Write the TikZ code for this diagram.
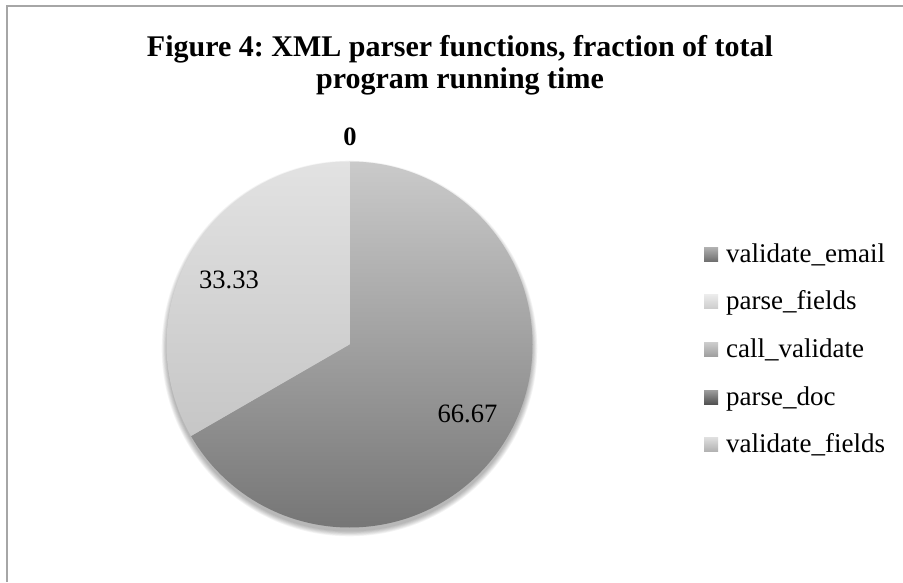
\documentclass[tikz,border=0pt]{standalone}
\usepackage{fontspec}
\setmainfont{Liberation Serif}
\usetikzlibrary{calc}
\frenchspacing
\definecolor{framegray}{HTML}{A6A6A6}
\definecolor{bigtop}{HTML}{CACACA}
\definecolor{bigbot}{HTML}{767676}
\definecolor{littop}{HTML}{E2E2E2}
\definecolor{litbot}{HTML}{C6C6C6}
\tikzset{
  legtext/.style={anchor=base west, font=\fontsize{27}{30}\selectfont, inner sep=0pt},
  pielabel/.style={font=\fontsize{26.5}{30}\selectfont, inner sep=0pt},
  titletext/.style={anchor=base, font=\bfseries\fontsize{30}{34}\selectfont, inner sep=0pt}
}
\begin{document}
\begin{tikzpicture}[x=1pt,y=1pt]
\useasboundingbox (0,0) rectangle (903,582);
\fill[white] (0,0) rectangle (903,582);
% frame
\draw[framegray, line width=2pt] (7,0) -- (7,576) -- (903,576);
% title
\node[titletext] (t1) at (460,525) {Figure 4: XML parser functions, fraction of total};
\node[titletext] (t2) at (460,493) {program running time};
% pie shadow
\coordinate (c) at (349.5,237.5);
\foreach \k in {0,...,6}{
  \fill[black, opacity=0.045] ($(c)+(0,-4)$) circle ({183+\k*0.8});
}
% slices
\shade[top color=bigtop, bottom color=bigbot] (c) -- ++(90:183) arc[start angle=90, end angle=-150, radius=183] -- cycle;
\shade[top color=littop, bottom color=litbot] (c) -- ++(90:183) arc[start angle=90, end angle=210, radius=183] -- cycle;
% labels
\node[pielabel] (l0) at (350,445) {\bfseries 0};
\node[pielabel] (l1) at (229,302.5) {33.33};
\node[pielabel] (l2) at (467.5,168) {66.67};
% legend
\shade[top color=black!32, bottom color=black!58] (704,334) rectangle ++(14,-14);
\node[legtext] (e1) at (726,319) {validate\_email};
\shade[top color=black!8, bottom color=black!20] (704,287) rectangle ++(14,-14);
\node[legtext] (e2) at (726,272) {parse\_fields};
\shade[top color=black!20, bottom color=black!38] (704,239.5) rectangle ++(14,-14);
\node[legtext] (e3) at (726,224.5) {call\_validate};
\shade[top color=black!38, bottom color=black!68] (704,192) rectangle ++(14,-14);
\node[legtext] (e4) at (726,177) {parse\_doc};
\shade[top color=black!12, bottom color=black!30] (704,145) rectangle ++(14,-14);
\node[legtext] (e5) at (726,130) {validate\_fields};
\end{tikzpicture}
\end{document}
